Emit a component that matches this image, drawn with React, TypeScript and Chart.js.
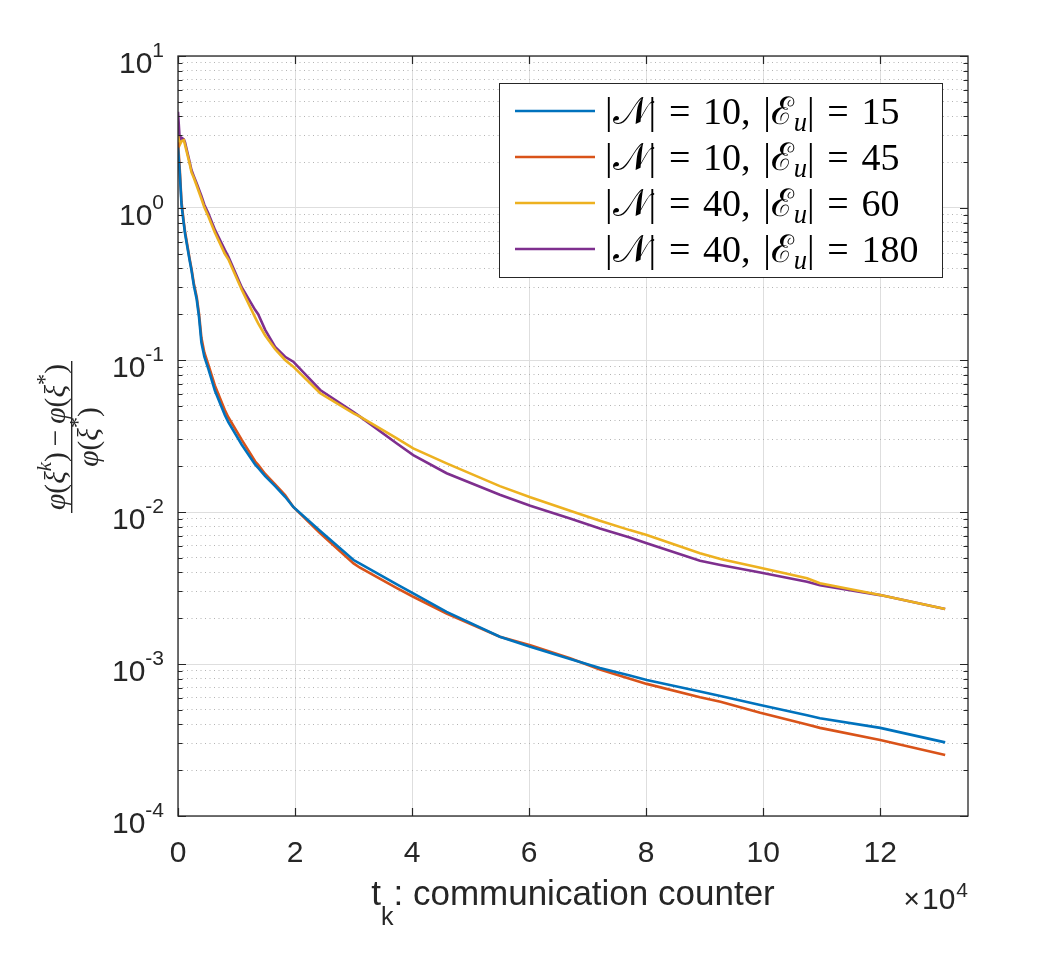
import React, { useEffect, useRef } from "react";
import { Chart, registerables } from "chart.js";
Chart.register(...registerables);

// t_k in units of 1e4
const T = [0, 0.03, 0.06, 0.1, 0.12, 0.2, 0.23, 0.27, 0.32, 0.36, 0.4, 0.45, 0.52, 0.63, 0.8, 0.86, 1.09, 1.32, 1.37, 1.49, 1.66, 1.83, 1.97, 2.43, 3.0, 3.11, 3.74, 4.02, 4.59, 5.5, 6.02, 6.7, 7.21, 7.72, 8.01, 8.92, 9.27, 9.95, 10.75, 10.97, 12.0, 13.11];

// |N|=10, |E_u|=15
const S_10_15 = [2.5, 1.7, 1.05, 0.78, 0.68, 0.45, 0.39, 0.31, 0.25, 0.19, 0.13, 0.105, 0.087, 0.063, 0.0435, 0.039, 0.0277, 0.0205, 0.0195, 0.0172, 0.0148, 0.0126, 0.0108, 0.0075, 0.00483, 0.00457, 0.00334, 0.00291, 0.0022, 0.00151, 0.0013, 0.00108, 0.00094, 0.00084, 0.000785, 0.00066, 0.000616, 0.000537, 0.00046, 0.00044, 0.00038, 0.000305];
// |N|=10, |E_u|=45
const S_10_45 = [2.7, 1.8, 1.1, 0.8, 0.7, 0.46, 0.4, 0.32, 0.26, 0.2, 0.14, 0.112, 0.093, 0.068, 0.0469, 0.042, 0.0298, 0.0215, 0.0204, 0.0178, 0.0152, 0.0129, 0.0108, 0.00724, 0.00459, 0.0043, 0.00316, 0.00277, 0.00215, 0.00151, 0.00133, 0.00109, 0.00092, 0.0008, 0.00074, 0.000605, 0.000565, 0.000478, 0.0004, 0.00038, 0.000316, 0.000252];
// |N|=40, |E_u|=60
const S_40_60 = [3.0, 2.6, 2.75, 2.8, 2.6, 1.95, 1.72, 1.58, 1.4, 1.27, 1.15, 1.01, 0.88, 0.69, 0.5, 0.46, 0.29, 0.19, 0.174, 0.145, 0.118, 0.1, 0.0904, 0.0604, 0.0445, 0.0424, 0.0305, 0.0262, 0.0209, 0.0148, 0.0125, 0.0102, 0.00877, 0.0076, 0.00706, 0.00536, 0.0049, 0.0043, 0.00366, 0.0034, 0.00284, 0.0023];
// |N|=40, |E_u|=180
const S_40_180 = [4.3, 2.8, 2.9, 2.83, 2.7, 2.0, 1.78, 1.62, 1.45, 1.32, 1.2, 1.05, 0.92, 0.72, 0.53, 0.48, 0.3, 0.213, 0.2, 0.158, 0.122, 0.105, 0.0975, 0.0635, 0.0455, 0.0424, 0.0282, 0.0237, 0.018, 0.013, 0.011, 0.00906, 0.0078, 0.0068, 0.00622, 0.00478, 0.00448, 0.004, 0.00348, 0.0033, 0.00284, 0.0023];

const SERIES = [S_10_15, S_10_45, S_40_60, S_40_180];
const N_VALUES = ["10", "10", "40", "40"];
const E_VALUES = ["15", "45", "60", "180"];
const COLORS = ["#0072BD", "#D95319", "#EDB120", "#7E2F8E"];

const X_TICKS = [0, 2, 4, 6, 8, 10, 12];
const X_MIN = 0;
const X_MAX = 13.5;
const X_EXPONENT = "4";
const Y_DECADES = [-4, -3, -2, -1, 0, 1];
const X_TITLE_MAIN = "t";
const X_TITLE_SUB = "k";
const X_TITLE_REST = ": communication counter";

const AX = "#262626";
const SANS = '"Liberation Sans", Arial, Helvetica, sans-serif';
const SERIF = '"Liberation Serif", "Times New Roman", serif';

const Y_GRID: { v: number; major: boolean }[] = [];
for (let e = Y_DECADES[0]; e < Y_DECADES[Y_DECADES.length - 1]; e++) {
  for (let m = 1; m <= 9; m++) Y_GRID.push({ v: m * Math.pow(10, e), major: m === 1 });
}
Y_GRID.push({ v: Math.pow(10, Y_DECADES[Y_DECADES.length - 1]), major: true });

type Piece = { t: string; font: string; dy?: number };

function measurePieces(ctx: CanvasRenderingContext2D, pieces: Piece[]) {
  let w = 0;
  pieces.forEach((p) => {
    ctx.font = p.font;
    w += ctx.measureText(p.t).width;
  });
  return w;
}

function drawPieces(ctx: CanvasRenderingContext2D, pieces: Piece[], x: number, y: number, align: "left" | "center" | "right") {
  const w = measurePieces(ctx, pieces);
  let cx = align === "left" ? x : align === "center" ? x - w / 2 : x - w;
  ctx.textAlign = "left";
  pieces.forEach((p) => {
    ctx.font = p.font;
    ctx.fillText(p.t, cx, y + (p.dy || 0));
    cx += ctx.measureText(p.t).width;
  });
  return w;
}

const fi = (s: number) => `italic ${s}px ${SERIF}`;
const fn = (s: number) => `${s}px ${SERIF}`;

const legendPieces = (i: number, s: number): Piece[] => [
  { t: "|", font: fn(s) },
  { t: "\ud835\udca9", font: fn(s) },
  { t: "|\u2004=\u2004" + N_VALUES[i] + ",\u2004|", font: fn(s) },
  { t: "\u2130", font: fn(s) },
  { t: "u", font: fi(s * 0.7), dy: s * 0.2 },
  { t: "|\u2004=\u2004" + E_VALUES[i], font: fn(s) },
];

const numPieces = (s: number): Piece[] => [
  { t: "\u03c6", font: fi(s) },
  { t: "(", font: fn(s) },
  { t: "\u03be", font: fi(s) },
  { t: "k", font: fi(s * 0.7), dy: -s * 0.45 },
  { t: ")", font: fn(s) },
  { t: "\u2009\u2212\u2009", font: fn(s) },
  { t: "\u03c6", font: fi(s) },
  { t: "(", font: fn(s) },
  { t: "\u03be", font: fi(s) },
  { t: "*", font: fn(s * 0.75), dy: -s * 0.42 },
  { t: ")", font: fn(s) },
];
const denPieces = (s: number): Piece[] => [
  { t: "\u03c6", font: fi(s) },
  { t: "(", font: fn(s) },
  { t: "\u03be", font: fi(s) },
  { t: "*", font: fn(s * 0.75), dy: -s * 0.42 },
  { t: ")", font: fn(s) },
];

const axesPlugin = {
  id: "matlabAxes",
  afterDatasetsDraw(chart: any) {
    const { ctx, chartArea: a } = chart;
    const xs = chart.scales.x;
    const ys = chart.scales.y;
    ctx.save();
    ctx.fillStyle = AX;
    ctx.strokeStyle = AX;

    // box
    ctx.lineWidth = 1.3;
    ctx.strokeRect(a.left, a.top, a.right - a.left, a.bottom - a.top);

    // ticks
    ctx.lineWidth = 1.2;
    ctx.beginPath();
    Y_GRID.forEach((g) => {
      const py = Math.round(ys.getPixelForValue(g.v)) + 0.5;
      const len = g.major ? 8 : 4.5;
      ctx.moveTo(a.left, py);
      ctx.lineTo(a.left + len, py);
      ctx.moveTo(a.right, py);
      ctx.lineTo(a.right - len, py);
    });
    X_TICKS.forEach((v) => {
      const px = Math.round(xs.getPixelForValue(v)) + 0.5;
      ctx.moveTo(px, a.bottom);
      ctx.lineTo(px, a.bottom - 8);
      ctx.moveTo(px, a.top);
      ctx.lineTo(px, a.top + 8);
    });
    ctx.stroke();

    // y tick labels 10^e
    ctx.textBaseline = "alphabetic";
    Y_DECADES.forEach((e) => {
      const py = ys.getPixelForValue(Math.pow(10, e));
      const right = a.left - 14;
      ctx.font = `21px ${SANS}`;
      ctx.textAlign = "right";
      const es = String(e);
      ctx.fillText(es, right, py + 1);
      const ew = ctx.measureText(es).width;
      ctx.font = `30px ${SANS}`;
      ctx.fillText("10", right - ew, py + 16.5);
    });

    // x tick labels
    ctx.font = `30px ${SANS}`;
    ctx.textAlign = "center";
    X_TICKS.forEach((v) => {
      const px = xs.getPixelForValue(v);
      ctx.fillText(String(v), px, a.bottom + 46);
    });

    // x exponent multiplier
    ctx.textAlign = "right";
    ctx.font = `21px ${SANS}`;
    ctx.fillText(X_EXPONENT, a.right, a.bottom + 81);
    const w4 = ctx.measureText(X_EXPONENT).width;
    ctx.font = `30px ${SANS}`;
    ctx.fillText("10", a.right - w4 - 1, a.bottom + 93);
    const w10 = ctx.measureText("10").width;
    ctx.font = `28px ${SANS}`;
    ctx.fillText("\u00d7", a.right - w4 - 1 - w10 - 2, a.bottom + 92);

    // x title
    drawPieces(
      ctx,
      [
        { t: X_TITLE_MAIN, font: `35px ${SANS}` },
        { t: X_TITLE_SUB, font: `25px ${SANS}`, dy: 20 },
        { t: X_TITLE_REST, font: `35px ${SANS}` },
      ],
      (a.left + a.right) / 2,
      a.bottom + 89,
      "center"
    );

    // y title: fraction, rotated
    ctx.save();
    ctx.translate(71.7, (a.top + a.bottom) / 2 + 1);
    ctx.rotate(-Math.PI / 2);
    const nw = measurePieces(ctx, numPieces(20));
    const fs = (20 * 146) / nw;
    drawPieces(ctx, numPieces(fs), 0, -7, "center");
    drawPieces(ctx, denPieces(fs), 0, fs * 0.88, "center");
    ctx.lineWidth = 1.4;
    ctx.beginPath();
    ctx.moveTo(-76, 0);
    ctx.lineTo(76, 0);
    ctx.stroke();
    ctx.restore();

    // legend
    const lx = 499, ly = 83, lw = 443, lh = 194;
    ctx.fillStyle = "#ffffff";
    ctx.fillRect(lx, ly, lw, lh);
    ctx.lineWidth = 1;
    ctx.strokeStyle = AX;
    ctx.strokeRect(lx + 0.5, ly + 0.5, lw, lh);
    const lw0 = measurePieces(ctx, legendPieces(0, 30));
    const ls = Math.min(38, (30 * 308) / lw0);
    N_VALUES.forEach((_n, i) => {
      const cy = 111 + i * 46;
      ctx.strokeStyle = COLORS[i];
      ctx.lineWidth = 2.5;
      ctx.beginPath();
      ctx.moveTo(515, cy);
      ctx.lineTo(595, cy);
      ctx.stroke();
      ctx.fillStyle = "#000000";
      drawPieces(ctx, legendPieces(i, ls), 605, cy + ls * 0.33, "left");
    });

    ctx.restore();
  },
};

export default function App() {
  const ref = useRef<HTMLCanvasElement | null>(null);
  useEffect(() => {
    if (!ref.current) return;
    const datasets = SERIES.map((s, i) => ({
      label: `|N| = ${N_VALUES[i]}, |E_u| = ${E_VALUES[i]}`,
      data: T.map((t, j) => ({ x: t, y: s[j] })),
      borderColor: COLORS[i],
      backgroundColor: COLORS[i],
      borderWidth: 2.6,
      pointRadius: 0,
      tension: 0,
      fill: false,
    }));
    const chart = new Chart(ref.current, {
      type: "line",
      data: { datasets },
      options: {
        animation: false,
        responsive: false,
        devicePixelRatio: 1,
        layout: { padding: { top: 56, right: 77, left: 0, bottom: 0 } },
        plugins: { legend: { display: false }, tooltip: { enabled: false } },
        scales: {
          x: {
            type: "linear",
            min: X_MIN,
            max: X_MAX,
            afterFit: (s: any) => {
              s.height = 147;
            },
            afterBuildTicks: (s: any) => {
              s.ticks = X_TICKS.map((v) => ({ value: v }));
            },
            ticks: { display: false, autoSkip: false },
            border: { display: false },
            grid: { color: "#dedede", lineWidth: 1, drawTicks: false },
          },
          y: {
            type: "logarithmic",
            min: Math.pow(10, Y_DECADES[0]),
            max: Math.pow(10, Y_DECADES[Y_DECADES.length - 1]),
            afterFit: (s: any) => {
              s.width = 178;
            },
            afterBuildTicks: (s: any) => {
              s.ticks = Y_GRID.map((g) => ({ value: g.v, major: g.major }));
            },
            ticks: { display: false, autoSkip: false },
            border: {
              display: false,
              dash: (c: any) => (c.tick && c.tick.major ? [] : [1, 3.5]),
            } as any,
            grid: {
              drawTicks: false,
              color: (c: any) => (c.tick && c.tick.major ? "#dedede" : "#b4b4b4"),
              lineWidth: 1,
            },
          },
        },
      },
      plugins: [axesPlugin],
    } as any);
    return () => chart.destroy();
  }, []);
  return (
    <div style={{ position: "fixed", left: 0, top: 0, width: 1045, height: 963, background: "#fff" }}>
      <canvas ref={ref} width={1045} height={963} style={{ display: "block" }} />
    </div>
  );
}
